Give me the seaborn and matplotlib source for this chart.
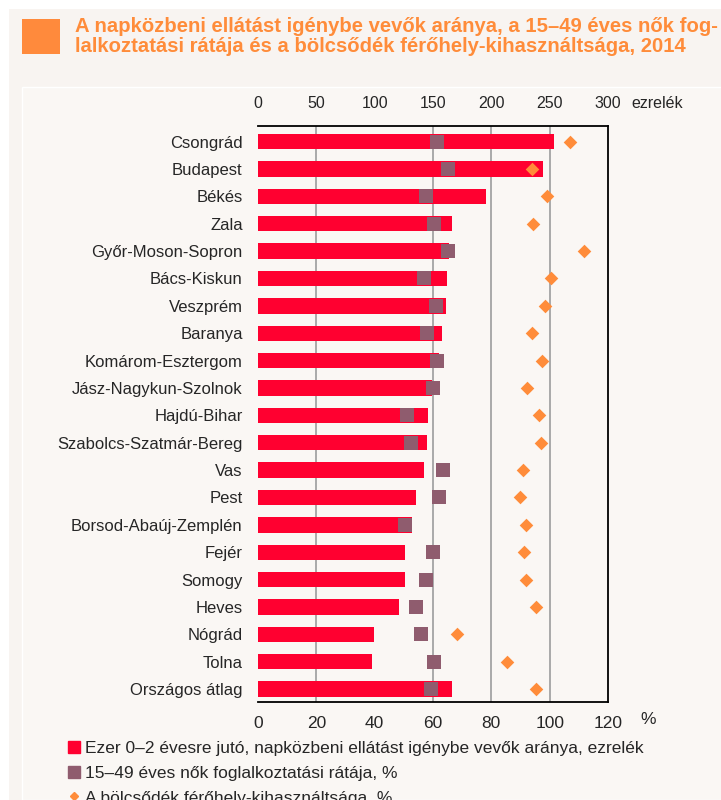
import numpy as np
import matplotlib.pyplot as plt
import seaborn as sns
from matplotlib.patches import Rectangle
from matplotlib.lines import Line2D

# Data
megyek = ["Csongrád", "Budapest", "Békés", "Zala", "Győr-Moson-Sopron", "Bács-Kiskun",
          "Veszprém", "Baranya", "Komárom-Esztergom", "Jász-Nagykun-Szolnok", "Hajdú-Bihar",
          "Szabolcs-Szatmár-Bereg", "Vas", "Pest", "Borsod-Abaúj-Zemplén", "Fejér",
          "Somogy", "Heves", "Nógrád", "Tolna", "Országos átlag"]
# ezrelék
ellatas = [254, 244, 195, 166, 164, 162, 161, 158, 155, 149, 146, 145, 142, 135,
           132, 126, 126, 121, 99, 98, 166]
# %
foglalkoztatas = [61.3, 65.0, 57.7, 60.4, 65.0, 56.9, 61.0, 57.9, 61.5, 60.1, 51.0,
                  52.6, 63.3, 62.0, 50.3, 60.1, 57.7, 54.2, 56.0, 60.4, 59.3]
# %
kihasznaltsag = [107.1, 93.9, 99.2, 94.3, 111.6, 100.3, 98.4, 93.9, 97.5, 92.2, 96.3,
                 97.0, 90.8, 89.8, 92.0, 91.1, 92.0, 95.3, 68.2, 85.5, 95.3]

top_ticks = [0, 50, 100, 150, 200, 250, 300]
bottom_ticks = [0, 20, 40, 60, 80, 100, 120]
grid_pct = [20, 60, 80, 100]

title_lines = ["A napközbeni ellátást igénybe vevők aránya, a 15–49 éves nők fog-",
               "lalkoztatási rátája és a bölcsődék férőhely-kihasználtsága, 2014"]
legend_labels = ["Ezer 0–2 évesre jutó, napközbeni ellátást igénybe vevők aránya, ezrelék",
                 "15–49 éves nők foglalkoztatási rátája, %",
                 "A bölcsődék férőhely-kihasználtsága, %"]

RED = "#ff0030"
PURPLE = "#8f5c6e"
ORANGE = "#ff8c3a"

sns.set_theme(style="white")
plt.rcParams["font.family"] = ["Liberation Sans", "DejaVu Sans"]

W, H = 721, 800
fig = plt.figure(figsize=(W / 100, H / 100), dpi=100)
fig.patch.set_facecolor("white")

# background panels
fig.add_artist(Rectangle((9 / W, 0), 1, 1 - 9 / H, transform=fig.transFigure,
                         facecolor="#f8f4f1", edgecolor="none", zorder=-10))
fig.add_artist(Rectangle((22 / W, 0), 1, 1 - 87 / H, transform=fig.transFigure,
                         facecolor="#faf7f4", edgecolor="#ffffff", lw=1, zorder=-9))
fig.add_artist(Rectangle((22 / W, 1 - 54 / H), 38 / W, 35 / H, transform=fig.transFigure,
                         facecolor="#ff8a3c", edgecolor="none", zorder=-8))

fig.text(75 / W, 1 - 27 / H, title_lines[0], color=ORANGE, fontsize=14.6, fontweight="bold",
         va="center", ha="left")
fig.text(75 / W, 1 - 47 / H, title_lines[1], color=ORANGE, fontsize=14.6, fontweight="bold",
         va="center", ha="left")

ax = fig.add_axes([258 / W, 1 - 702 / H, 350 / W, 576 / H])
ax.patch.set_visible(False)

pos = np.arange(len(megyek))
sns.barplot(x=ellatas, y=megyek, orient="h", color=RED, saturation=1, width=0.56,
            linewidth=0, ax=ax, zorder=2)
for g in grid_pct:
    ax.axvline(g * 2.5, color="#a9a9a9", lw=1.4, zorder=1)

ax2 = ax.twiny()
sns.scatterplot(x=foglalkoztatas, y=pos, marker="s", s=105, color=PURPLE, linewidth=0,
                ax=ax2, zorder=3)
sns.scatterplot(x=kihasznaltsag, y=pos, marker="D", s=48, color=ORANGE, linewidth=0,
                ax=ax2, zorder=4)
ax2.set_xlim(0, 120)
ax2.xaxis.tick_bottom()
ax2.set_xticks(bottom_ticks)
ax2.set_xticklabels([str(t) for t in bottom_ticks])
ax2.tick_params(axis="x", length=0, pad=10, labelsize=12.5)
for s in ax2.spines.values():
    s.set_visible(False)

# top axis (ezrelék) on the bar axes
ax.set_xlim(0, 300)
ax.xaxis.tick_top()
ax.set_xticks(top_ticks)
ax.set_xticklabels([str(t) for t in top_ticks])
ax.tick_params(axis="x", length=0, pad=11, labelsize=11.5)
ax.tick_params(axis="y", length=0, pad=11, labelsize=12)
ax.set_xlabel("")
ax.set_ylabel("")
for side in ["top", "bottom", "right"]:
    ax.spines[side].set_color("black")
    ax.spines[side].set_linewidth(1.3)
ax.spines["left"].set_visible(False)
ax.set_ylim(20.47, -0.57)

fig.text(631 / W, 1 - 103 / H, "ezrelék", fontsize=11.5, va="center", ha="left")
fig.text(640 / W, 1 - 720 / H, "%", fontsize=12.5, va="center", ha="left")

handles = [Line2D([], [], marker="s", ls="none", color=RED, markersize=8.5),
           Line2D([], [], marker="s", ls="none", color=PURPLE, markersize=8.5),
           Line2D([], [], marker="D", ls="none", color=ORANGE, markersize=4.5)]
fig.legend(handles, legend_labels, loc="upper left", bbox_to_anchor=(68 / W, 1 - 741 / H),
           frameon=False, handlelength=0.7, handletextpad=0.3, labelspacing=0.55,
           prop={"size": 12.5}, borderaxespad=0, borderpad=0)

fig.savefig("out.png", dpi=100)
